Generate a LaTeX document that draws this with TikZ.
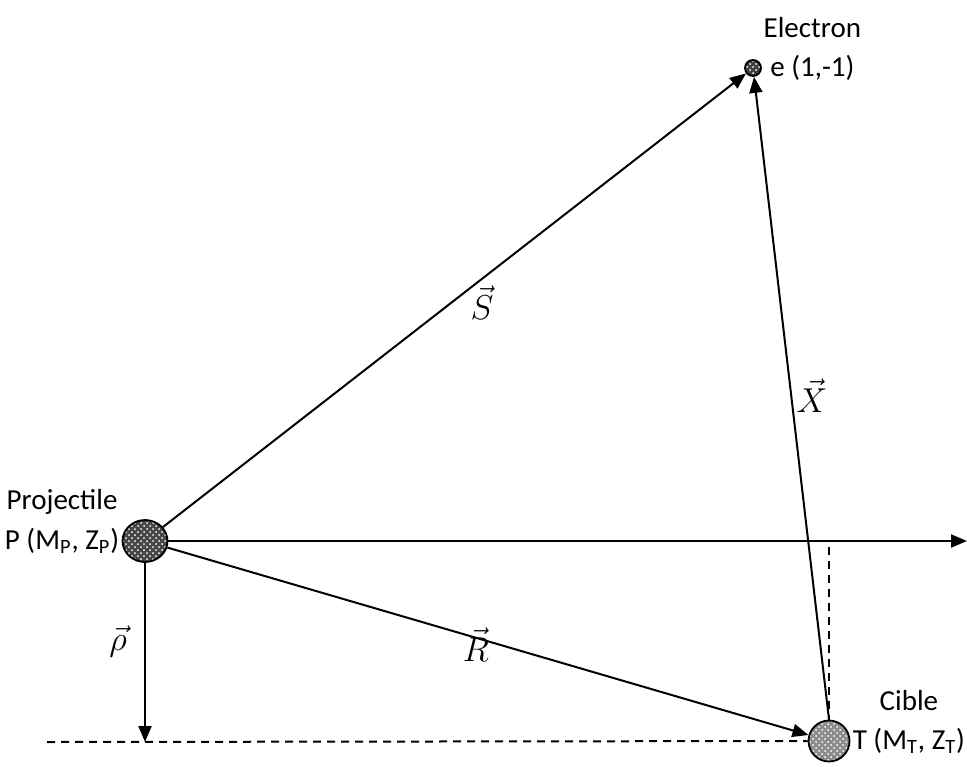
\documentclass[tikz,border=0pt]{standalone}
\usepackage{fontspec}
\setmainfont{Carlito}
\usetikzlibrary{positioning,arrows.meta,calc,patterns,shapes.geometric}

\begin{document}
\begin{tikzpicture}[x=0.5pt, y=-0.5pt, >={Triangle[length=8pt,width=6.5pt]},
  every node/.style={font=\fontsize{14.5}{17}\selectfont},
  ball/.style={draw, line width=0.9pt, inner sep=0pt, pattern=crosshatch dots, pattern color=white},
  veclbl/.style={font=\fontsize{17}{19}\selectfont, inner sep=0pt},
  vec/.style={->, line width=1pt},
  guide/.style={line width=1pt, dash pattern=on 4pt off 3pt}]
  \useasboundingbox (0,0) rectangle (967,766);

  \node[ball, ellipse, minimum width=22.5pt, minimum height=21pt, preaction={fill=black!72}] (P) at (145,541) {};
  \node[ball, circle, minimum size=20.5pt, preaction={fill=black!45}] (T) at (829,741) {};
  \node[ball, circle, minimum size=8pt, preaction={fill=black!75}] (e) at (753,68) {};

  \node[left=0pt of P, inner sep=1pt] (Plbl) {P (M\textsubscript{P}, Z\textsubscript{P})};
  \node[above=2pt of Plbl] (Pname) {Projectile};
  \node[right=0pt of T, inner sep=1pt] (Tlbl) {T (M\textsubscript{T}, Z\textsubscript{T})};
  \node[above=4pt of Tlbl] (Tname) {Cible};
  \node[right=3pt of e, inner sep=1pt] (elbl) {e (1,-1)};
  \node[above=4pt of elbl] (ename) {Electron};

  \coordinate (ax) at (967,541);
  \coordinate (foot) at (145,742);
  \coordinate (dl) at (47,742);
  \coordinate (xp) at (829,547);

  \draw[guide] (dl) -- (T.west);
  \draw[guide] (xp) -- (T.north);
  \draw[vec] (P.east) -- (ax);
  \draw[vec] (P.south) -- (foot);
  \draw[vec] (P) -- (e);
  \draw[vec] (P) -- (T);
  \draw[vec] (T.north) -- (e);

  \node[veclbl] (Slbl) at (482,303) {$\vec{S}$};
  \node[veclbl] (Xlbl) at (812,396) {$\vec{X}$};
  \node[veclbl] (Rlbl) at (476,645) {$\vec{R}$};
  \node[veclbl] (rholbl) at (118,642) {$\vec{\rho}$};
\end{tikzpicture}
\end{document}
